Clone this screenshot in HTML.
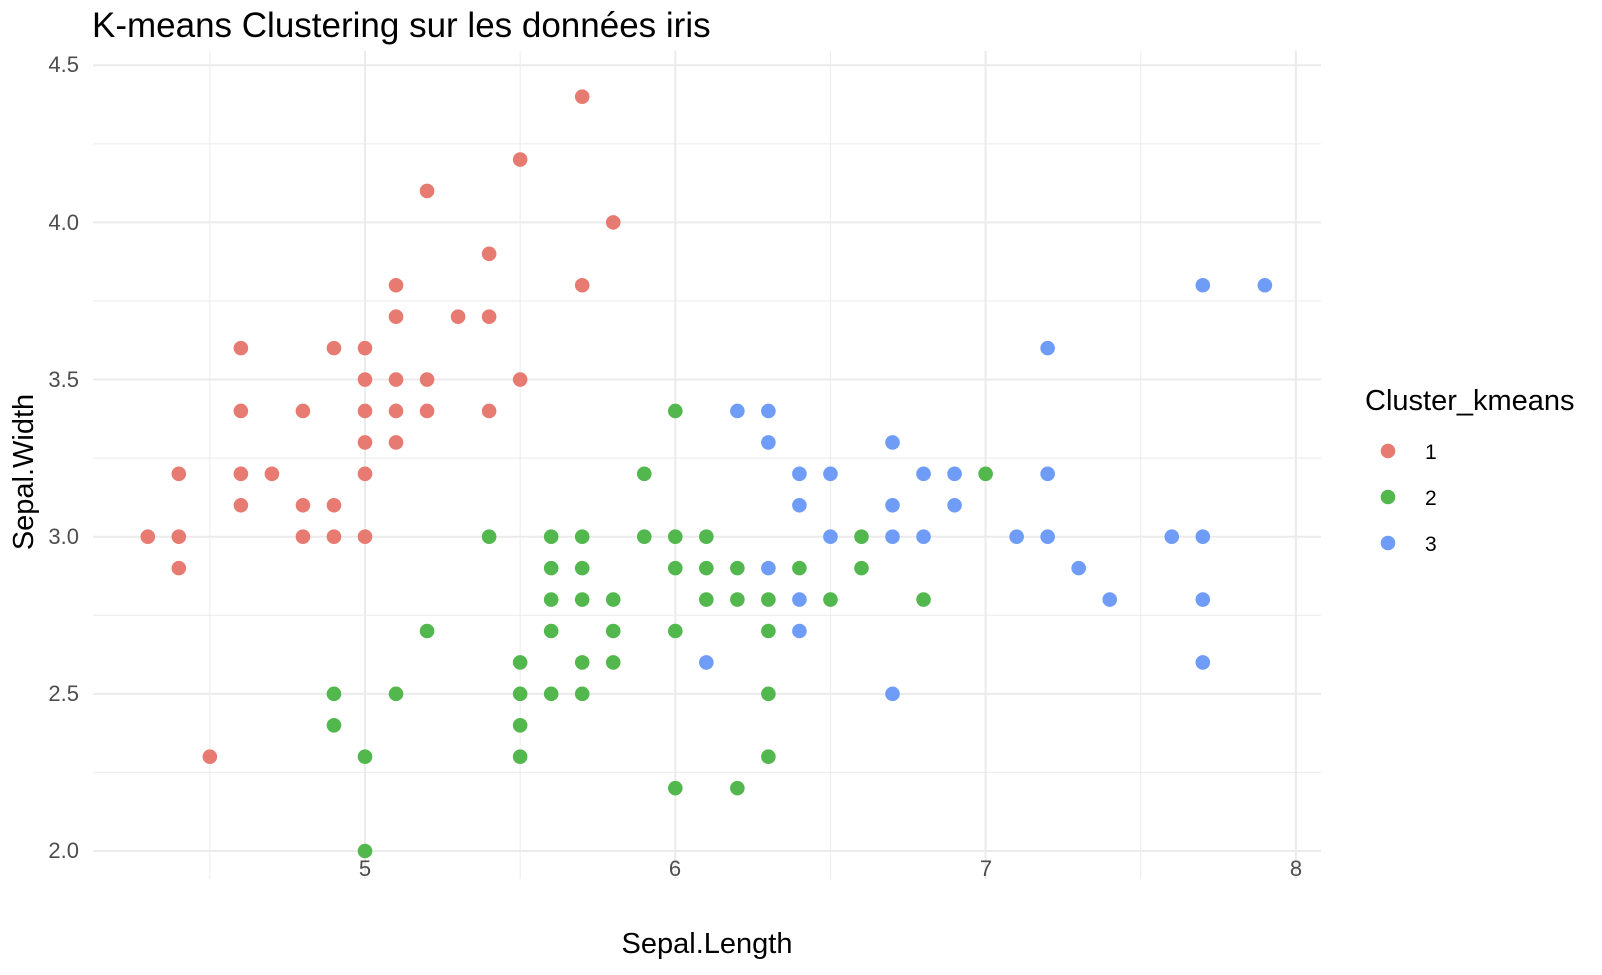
<!DOCTYPE html>
<html><head><meta charset="utf-8"><style>
html,body{margin:0;padding:0;background:#fff;}
svg text{font-family:"Liberation Sans",Arial,sans-serif;}
</style></head><body>
<svg id="s" width="1602" height="970" xmlns="http://www.w3.org/2000/svg">
<rect width="1602" height="970" fill="#fff"/>
<g id="grid"></g>
<g id="pts"></g>
<text x="92" y="37" font-size="35" fill="#000">K-means Clustering sur les données iris</text>
<g font-size="22" fill="#4d4d4d" text-anchor="end">
<text x="79" y="858">2.0</text><text x="79" y="701">2.5</text><text x="79" y="544">3.0</text>
<text x="79" y="387">3.5</text><text x="79" y="230">4.0</text><text x="79" y="72">4.5</text>
</g>
<g font-size="22" fill="#4d4d4d" text-anchor="middle">
<text x="365" y="876">5</text><text x="675" y="876">6</text><text x="986" y="876">7</text><text x="1296" y="876">8</text>
</g>
<text x="707" y="953" font-size="29" text-anchor="middle" fill="#000">Sepal.Length</text>
<text transform="translate(33,472) rotate(-90)" font-size="29" text-anchor="middle" fill="#000">Sepal.Width</text>
<text x="1365" y="410" font-size="29" fill="#000">Cluster_kmeans</text>
<circle cx="1388" cy="451" r="7.3" fill="#E77B72"/><circle cx="1388" cy="497" r="7.3" fill="#52B74C"/><circle cx="1388" cy="543" r="7.3" fill="#6E9CF7"/>
<g font-size="21" fill="#000"><text x="1425" y="459">1</text><text x="1425" y="505">2</text><text x="1425" y="551">3</text></g>
</svg>
<script>
var X=function(x){return 365+(x-5)*310.3},Y=function(y){return 851-(y-2)*314.3};
var g='';
for(var v=4.5;v<=8.01;v+=0.5){var maj=Math.abs(v-Math.round(v))<.01;g+='<line x1="'+X(v)+'" x2="'+X(v)+'" y1="51" y2="879" stroke="#ebebeb" stroke-width="'+(maj?2:1)+'"/>';}
for(var v=2;v<=4.51;v+=0.25){var maj=Math.abs(v*2-Math.round(v*2))<.01;g+='<line y1="'+Y(v)+'" y2="'+Y(v)+'" x1="93" x2="1321" stroke="#ebebeb" stroke-width="'+(maj?2:1)+'"/>';}
document.getElementById('grid').innerHTML=g;
var R=[[5.7,4.4],[5.5,4.2],[5.2,4.1],[5.8,4.0],[5.4,3.9],[5.7,3.8],[5.1,3.8],[5.1,3.7],[5.3,3.7],[5.4,3.7],[4.6,3.6],[4.9,3.6],[5.0,3.6],[5.0,3.5],[5.1,3.5],[5.2,3.5],[5.5,3.5],[4.6,3.4],[4.8,3.4],[5.0,3.4],[5.1,3.4],[5.2,3.4],[5.4,3.4],[5.0,3.3],[5.1,3.3],[4.4,3.2],[4.6,3.2],[4.7,3.2],[5.0,3.2],[4.6,3.1],[4.8,3.1],[4.9,3.1],[4.3,3.0],[4.4,3.0],[4.8,3.0],[4.9,3.0],[5.0,3.0],[4.4,2.9],[4.5,2.3]];
var G=[[6.0,3.4],[5.9,3.2],[7.0,3.2],[5.4,3.0],[5.6,3.0],[5.7,3.0],[5.9,3.0],[6.0,3.0],[6.1,3.0],[6.6,3.0],[5.6,2.9],[5.7,2.9],[6.0,2.9],[6.1,2.9],[6.2,2.9],[6.4,2.9],[6.6,2.9],[5.6,2.8],[5.7,2.8],[5.8,2.8],[6.1,2.8],[6.2,2.8],[6.3,2.8],[6.5,2.8],[6.8,2.8],[5.2,2.7],[5.6,2.7],[5.8,2.7],[6.0,2.7],[6.3,2.7],[5.5,2.6],[5.7,2.6],[5.8,2.6],[4.9,2.5],[5.1,2.5],[5.5,2.5],[5.6,2.5],[5.7,2.5],[6.3,2.5],[4.9,2.4],[5.5,2.4],[5.0,2.3],[5.5,2.3],[6.3,2.3],[6.0,2.2],[6.2,2.2],[5.0,2.0]];
var B=[[7.7,3.8],[7.9,3.8],[7.2,3.6],[6.2,3.4],[6.3,3.4],[6.3,3.3],[6.7,3.3],[6.4,3.2],[6.5,3.2],[6.8,3.2],[6.9,3.2],[7.2,3.2],[6.4,3.1],[6.7,3.1],[6.9,3.1],[6.5,3.0],[6.7,3.0],[6.8,3.0],[7.1,3.0],[7.2,3.0],[7.6,3.0],[7.7,3.0],[6.3,2.9],[7.3,2.9],[6.4,2.8],[7.4,2.8],[7.7,2.8],[6.4,2.7],[6.1,2.6],[7.7,2.6],[6.7,2.5]];
var p='';
[[R,'#E77B72'],[G,'#52B74C'],[B,'#6E9CF7']].forEach(function(s){s[0].forEach(function(d){p+='<circle cx="'+X(d[0])+'" cy="'+Y(d[1])+'" r="7.3" fill="'+s[1]+'"/>';});});
document.getElementById('pts').innerHTML=p;
</script>
</body></html>
